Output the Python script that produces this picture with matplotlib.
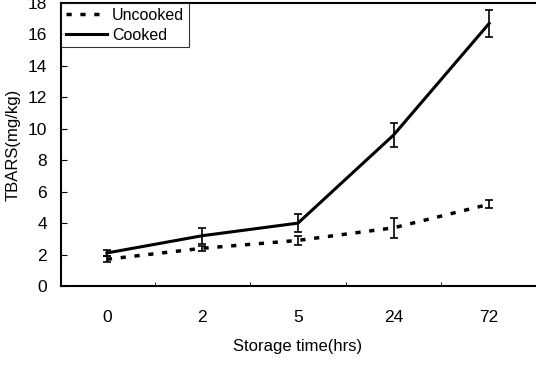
import numpy as np
import matplotlib.pyplot as plt

# data
times = ['0', '2', '5', '24', '72']
uncooked = [1.7, 2.4, 2.9, 3.7, 5.2]
uncooked_err = [0.2, 0.15, 0.3, 0.65, 0.25]
cooked = [2.1, 3.2, 4.0, 9.6, 16.7]
cooked_err = [0.2, 0.5, 0.55, 0.75, 0.85]

plt.rcParams['font.family'] = ['Liberation Sans', 'DejaVu Sans']

fig = plt.figure(figsize=(5.36, 3.67), dpi=100)
ax = fig.add_axes([61 / 536, 1 - 286 / 367, (535 - 61) / 536, (286 - 3) / 367])

x = np.arange(len(times))
dash = (0, (1.5, 2.5))
ax.errorbar(x, uncooked, yerr=uncooked_err, fmt='none', ecolor='black',
            capsize=3, elinewidth=1.2, capthick=1.2)
ax.errorbar(x, cooked, yerr=cooked_err, fmt='none', ecolor='black',
            capsize=3, elinewidth=1.2, capthick=1.2)
ax.plot(x, uncooked, color='black', lw=2.5, linestyle=dash, label='Uncooked')
ax.plot(x, cooked, color='black', lw=2.2, label='Cooked')

ax.set_xlim(-0.48, 4.48)
ax.set_ylim(0, 18)
ax.set_yticks(range(0, 19, 2))
ax.set_xticks(x)
ax.set_xticklabels(times)
ax.set_xticks(x[:-1] + 0.5, minor=True)
ax.tick_params(axis='x', which='major', length=0, pad=17, labelsize=12.5)
ax.tick_params(axis='x', which='minor', direction='in', length=3)
ax.tick_params(axis='y', direction='in', length=4, labelsize=12.5, pad=10)

for s in ['left', 'bottom', 'top']:
    ax.spines[s].set_linewidth(1.5)
ax.spines['right'].set_visible(False)

ax.set_xlabel('Storage time(hrs)', fontsize=12, labelpad=10)
ax.set_ylabel('TBARS(mg/kg)', fontsize=12, labelpad=5)

leg = ax.legend(loc='upper left', fontsize=11.5, frameon=True, fancybox=False,
                borderaxespad=0, handlelength=2.6, borderpad=0.3,
                labelspacing=0.3, handletextpad=0.3)
leg.get_frame().set_edgecolor('black')
leg.get_frame().set_linewidth(0.8)

fig.savefig('out.png', dpi=100)
